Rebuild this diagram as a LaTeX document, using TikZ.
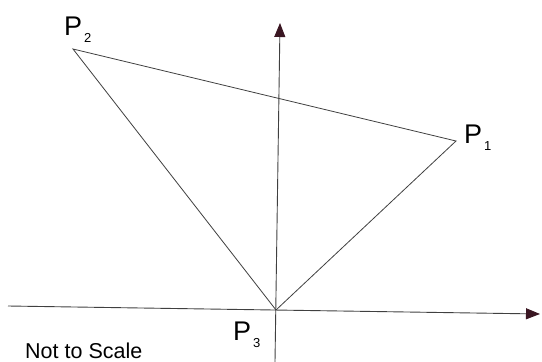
\documentclass[tikz,border=0pt]{standalone}
\usepackage{fontspec}
\setmainfont{Liberation Sans}
\usetikzlibrary{arrows.meta}
\definecolor{linecol}{HTML}{404040}
\definecolor{arrowcol}{HTML}{3A1622}
\begin{document}
\begin{tikzpicture}[x=1pt,y=-1pt,
  edge/.style={draw=linecol,line width=0.8pt},
  axis/.style={draw=linecol,line width=0.9pt,-{Triangle[length=14pt,width=11pt,color=arrowcol]}},
  plabel/.style={inner sep=0pt,anchor=base west,font=\fontsize{27}{27}\selectfont},
  note/.style={inner sep=0pt,anchor=base west,font=\fontsize{21.5}{22}\selectfont}]
\useasboundingbox (0,0) rectangle (542,362);
\coordinate (p1) at (456,141);
\coordinate (p2) at (73,49);
\coordinate (p3) at (276,310);
\coordinate (xl) at (8,306);
\coordinate (xr) at (540,314);
\coordinate (yb) at (275,362);
\coordinate (yt) at (280,23);
\draw[axis] (xl) -- (xr);
\draw[axis] (yb) -- (yt);
\draw[edge] (p1) -- (p2) -- (p3) -- cycle;
\node[plabel] (l2) at (64,35) {P\kern2pt\raisebox{-7pt}{\fontsize{13}{13}\selectfont 2}};
\node[plabel] (l1) at (464,143) {P\kern2pt\raisebox{-7pt}{\fontsize{13}{13}\selectfont 1}};
\node[plabel] (l3) at (233,340) {P\kern2pt\raisebox{-7pt}{\fontsize{13}{13}\selectfont 3}};
\node[note] (ns) at (25,358) {Not to Scale};
\end{tikzpicture}
\end{document}
